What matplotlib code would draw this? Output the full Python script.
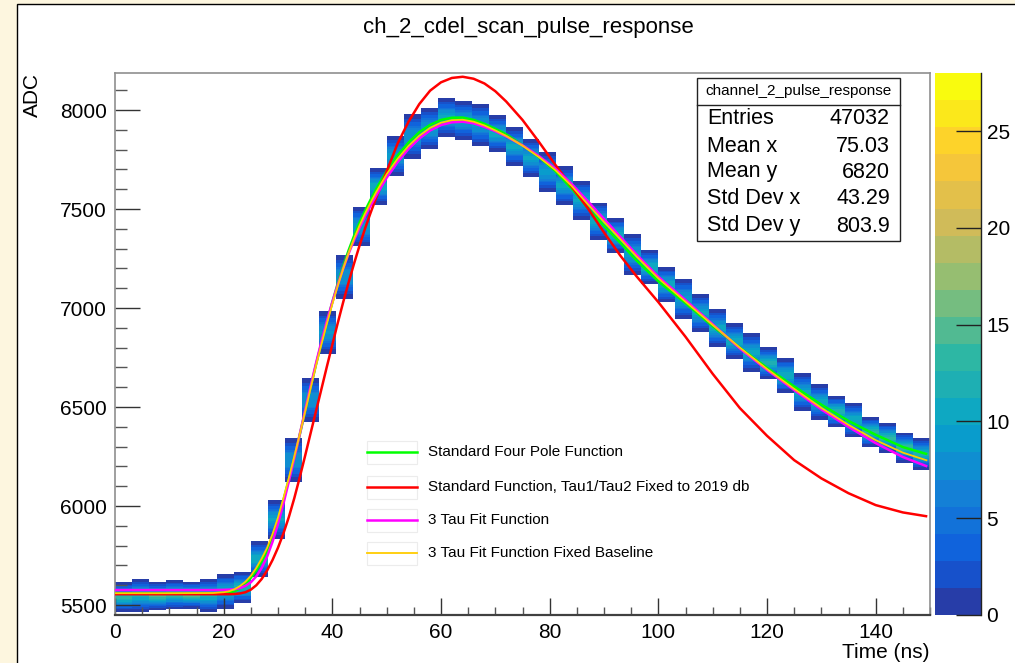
import numpy as np
import matplotlib
matplotlib.use('Agg')
import matplotlib.pyplot as plt
from matplotlib.colors import LinearSegmentedColormap, ListedColormap, Normalize
from matplotlib.patches import Rectangle
from matplotlib.ticker import MultipleLocator

plt.rcParams['font.family'] = ['Liberation Sans', 'DejaVu Sans']

#=======================================================
# 2D histogram: 48 time bins of 3.125 ns, extent of each column in ADC
t_edges = np.linspace(0, 150, 49)
col_hi = [5616, 5631, 5616, 5626, 5616, 5631, 5657, 5667, 5823, 6035,
          6349, 6652, 6990, 7273, 7515, 7707, 7874, 7985, 8015, 8061,
          8050, 8037, 7975, 7914, 7859, 7793, 7717, 7646, 7535, 7455,
          7379, 7293, 7207, 7152, 7076, 6995, 6924, 6874, 6803, 6748,
          6677, 6616, 6556, 6520, 6450, 6419, 6369, 6344]
col_lo = [5465, 5466, 5475, 5480, 5485, 5465, 5480, 5510, 5642, 5833,
          6116, 6419, 6763, 7040, 7308, 7520, 7662, 7748, 7798, 7864,
          7848, 7813, 7788, 7717, 7657, 7581, 7520, 7444, 7343, 7278,
          7162, 7121, 7030, 6939, 6874, 6803, 6742, 6677, 6641, 6571,
          6475, 6434, 6399, 6349, 6298, 6268, 6222, 6182]
entries = 47032

# fit curves
fit_t = [0, 10, 18, 20, 21, 22, 23, 24, 25, 26,
         27, 28, 29, 30, 31, 32, 33, 34, 35, 36,
         37, 38, 39, 40, 41, 42, 43, 44, 45, 46,
         47, 48, 50, 52, 54, 56, 58, 60, 62, 64,
         66, 68, 70, 72, 75, 78, 81, 84, 87, 90,
         93, 96, 100, 105, 110, 115, 120, 125, 130, 135,
         140, 145, 149.5]
four_pole = [5558, 5558, 5558, 5560, 5563, 5570, 5585, 5605, 5638, 5675,
             5722, 5775, 5845, 5930, 6030, 6135, 6245, 6360, 6478, 6598,
             6715, 6825, 6930, 7030, 7125, 7212, 7292, 7365, 7430, 7490,
             7545, 7597, 7693, 7770, 7835, 7888, 7925, 7950, 7961, 7962,
             7950, 7930, 7905, 7877, 7823, 7763, 7693, 7605, 7505, 7415,
             7330, 7240, 7135, 7025, 6908, 6800, 6698, 6604, 6512, 6430,
             6360, 6298, 6262]
std_fixed = [5555, 5555, 5555, 5555, 5555, 5556, 5559, 5565, 5578, 5600,
             5632, 5675, 5728, 5790, 5862, 5945, 6040, 6145, 6255, 6368,
             6480, 6592, 6705, 6815, 6925, 7030, 7130, 7225, 7315, 7400,
             7478, 7552, 7690, 7830, 7940, 8030, 8098, 8140, 8162, 8168,
             8158, 8134, 8095, 8043, 7950, 7840, 7725, 7615, 7505, 7382,
             7265, 7160, 7030, 6855, 6668, 6495, 6355, 6232, 6140, 6065,
             6005, 5968, 5948]
tau3 = [5576, 5576, 5576, 5577, 5578, 5580, 5586, 5597, 5615, 5645,
        5688, 5745, 5820, 5910, 6012, 6125, 6242, 6362, 6485, 6605,
        6722, 6832, 6935, 7030, 7118, 7200, 7275, 7343, 7405, 7462,
        7515, 7565, 7658, 7737, 7803, 7856, 7897, 7924, 7938, 7941,
        7933, 7915, 7893, 7867, 7822, 7768, 7705, 7628, 7540, 7450,
        7360, 7270, 7158, 7040, 6918, 6796, 6688, 6586, 6488, 6400,
        6318, 6248, 6200]
tau3_fixed_base = [5560, 5560, 5561, 5565, 5570, 5580, 5596, 5618, 5648, 5688,
                   5735, 5790, 5860, 5942, 6040, 6143, 6250, 6362, 6478, 6595,
                   6710, 6818, 6922, 7020, 7112, 7198, 7278, 7350, 7416, 7476,
                   7530, 7582, 7676, 7753, 7818, 7870, 7910, 7936, 7949, 7951,
                   7941, 7922, 7897, 7869, 7820, 7763, 7698, 7618, 7525, 7435,
                   7348, 7260, 7150, 7032, 6915, 6800, 6692, 6592, 6496, 6410,
                   6333, 6270, 6230]

fit_labels = ['Standard Four Pole Function',
              'Standard Function, Tau1/Tau2 Fixed to 2019 db',
              '3 Tau Fit Function',
              '3 Tau Fit Function Fixed Baseline']
fit_colors = ['#00ff00', '#ff0000', '#ff00ff', '#ffcc00']

stats_names = ['Entries', 'Mean x', 'Mean y', 'Std Dev x', 'Std Dev y']
stats_values = ['47032', '75.03', '6820', '43.29', '803.9']

#=======================================================
# ROOT kBird palette, 20 contour levels
bird_r = [0.2082, 0.0592, 0.0780, 0.0232, 0.1802, 0.5301, 0.8186, 0.9956, 0.9764]
bird_g = [0.1664, 0.3599, 0.5041, 0.6419, 0.7178, 0.7492, 0.7328, 0.7862, 0.9832]
bird_b = [0.5293, 0.8684, 0.8385, 0.7914, 0.6425, 0.4662, 0.3499, 0.1968, 0.0539]
bird = LinearSegmentedColormap.from_list('bird', list(zip(bird_r, bird_g, bird_b)))
ncont = 20
cmap = ListedColormap([bird((i + 0.99) / ncont) for i in range(ncont)])
norm = Normalize(0, 28)

#=======================================================
W, H = 1015, 663
fig = plt.figure(figsize=(W / 100, H / 100), dpi=100)
fig.patch.set_facecolor('#fdf6df')
fig.add_artist(Rectangle((17 / W, -0.01), 1.0, 1 - 4 / H + 0.01, transform=fig.transFigure,
                         fc='white', ec='black', lw=1, zorder=-5))

ax = fig.add_axes([115 / W, 1 - 615 / H, 815 / W, 542 / H])
cax = fig.add_axes([935 / W, 1 - 615 / H, 46 / W, 542 / H])

# build the 2D histogram counts (1 ADC wide y bins)
y_edges = np.arange(5450, 8188, 1.0)
y_mid = 0.5 * (y_edges[:-1] + y_edges[1:])
per_col = entries / len(col_hi)
counts = np.zeros((len(y_mid), len(col_hi)))
for i in range(len(col_hi)):
    c = 0.5 * (col_hi[i] + col_lo[i])
    s = (col_hi[i] - col_lo[i]) / 5.0
    counts[:, i] = np.round(per_col / (s * np.sqrt(2 * np.pi)) * np.exp(-0.5 * ((y_mid - c) / s) ** 2))
counts = np.ma.masked_less(counts, 1)

mesh = ax.pcolormesh(t_edges, y_edges, counts, cmap=cmap, norm=norm, zorder=1)

fits = [four_pole, std_fixed, tau3, tau3_fixed_base]
widths = [1.8, 1.8, 1.8, 1.3]
for vals, col, lw in zip(fits, fit_colors, widths):
    ax.plot(fit_t, vals, color=col, lw=lw, zorder=3, solid_capstyle='butt')

ax.set_xlim(0, 150)
ax.set_ylim(5450, 8187)
ax.set_xticks(range(0, 141, 20))
ax.set_yticks(range(5500, 8001, 500))
ax.xaxis.set_minor_locator(MultipleLocator(5))
ax.yaxis.set_minor_locator(MultipleLocator(100))
ax.tick_params(axis='x', which='major', direction='in', length=12, width=1, pad=6,
               labelsize=15, color='#333333')
ax.tick_params(axis='x', which='minor', direction='in', length=6, width=1, color='#555555')
ax.tick_params(axis='y', which='major', direction='in', length=18, width=1, pad=6,
               labelsize=15, color='#333333')
ax.tick_params(axis='y', which='minor', direction='in', length=8.5, width=1, color='#555555')
for side in ['left', 'top', 'right']:
    ax.spines[side].set_color('#8f8f8f')
    ax.spines[side].set_linewidth(1.2)
ax.spines['bottom'].set_color('#404040')
ax.spines['bottom'].set_linewidth(1.6)

# palette axis
cb = fig.colorbar(mesh, cax=cax, ticks=range(0, 26, 5))
cb.outline.set_visible(False)
cax.tick_params(direction='in', length=18, width=1, pad=4, labelsize=15, color='#222222')
cax.plot([1, 1], [0, 1], transform=cax.transAxes, color='#222222', lw=1, clip_on=False)

#=======================================================
# stats box
bx0, bx1 = (697 - 115) / 815, (900 - 115) / 815
by0, by1 = (615 - 241) / 542, (615 - 78) / 542
byh = (615 - 105) / 542
ax.add_patch(Rectangle((bx0, by0), bx1 - bx0, by1 - by0, transform=ax.transAxes,
                       fc='white', ec='#222222', lw=1, zorder=10))
ax.plot([bx0, bx1], [byh, byh], transform=ax.transAxes, color='#222222', lw=1, zorder=11)
ax.text((bx0 + bx1) / 2, (by1 + byh) / 2, 'channel_2_pulse_response', transform=ax.transAxes,
        ha='center', va='center', fontsize=11, zorder=12)
row_px = [119, 146, 172, 199, 226]
for name, val, py in zip(stats_names, stats_values, row_px):
    yy = (615 - py) / 542
    ax.text((707 - 115) / 815, yy, name, transform=ax.transAxes, ha='left', va='center',
            fontsize=15.5, zorder=12)
    ax.text((890 - 115) / 815, yy, val, transform=ax.transAxes, ha='right', va='center',
            fontsize=15.5, zorder=12)

# legend
lx0, lx1 = (367 - 115) / 815, (417 - 115) / 815
ltx = (428 - 115) / 815
leg_px = [452, 487, 520, 553]
hh = 11.5 / 542
for lab, col, lw, py in zip(fit_labels, fit_colors, widths, leg_px):
    yy = (615 - py) / 542
    ax.add_patch(Rectangle((lx0, yy - hh), lx1 - lx0, 2 * hh, transform=ax.transAxes,
                           fc='white', ec='#ececec', lw=0.8, zorder=8))
    ax.plot([lx0, lx1], [yy, yy], transform=ax.transAxes, color=col, lw=lw, zorder=9)
    ax.text(ltx, yy, lab, transform=ax.transAxes, ha='left', va='center', fontsize=11, zorder=9)

#=======================================================
fig.text(528 / W, 1 - 27 / H, 'ch_2_cdel_scan_pulse_response', ha='center', va='center', fontsize=16)
fig.text(32 / W, 1 - 73 / H, 'ADC', rotation=90, ha='center', va='top', fontsize=15)
fig.text(930 / W, 1 - 652 / H, 'Time (ns)', ha='right', va='center', fontsize=15)

fig.savefig('out.png', dpi=100, facecolor=fig.get_facecolor())
